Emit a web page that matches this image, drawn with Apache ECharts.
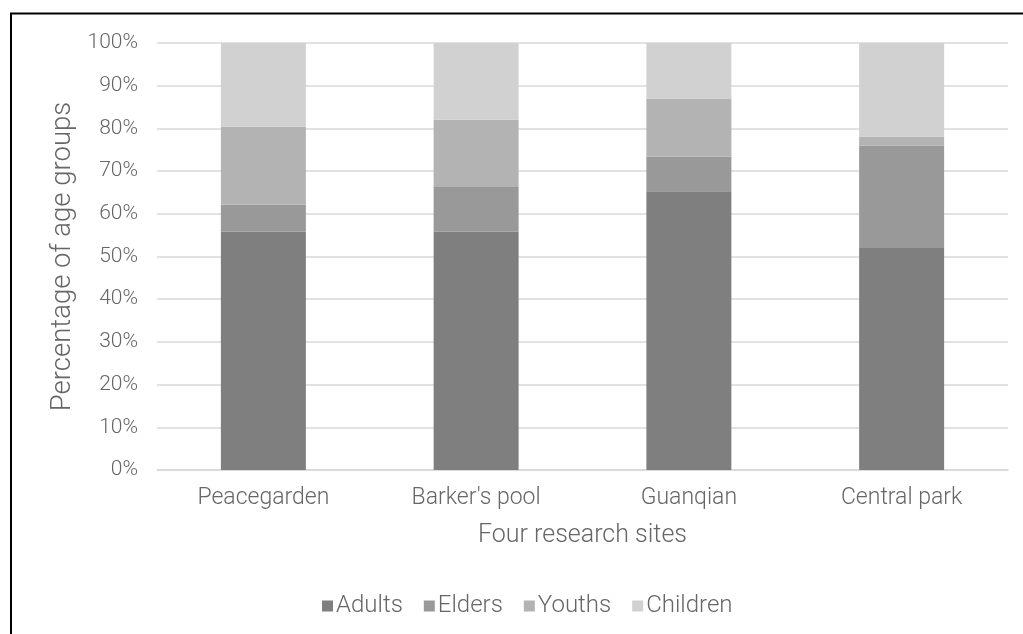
<!DOCTYPE html>
<html>
<head>
<meta charset="utf-8">
<script src="https://cdn.jsdelivr.net/npm/echarts@6/dist/echarts.min.js"></script>
<style>
  html, body { margin: 0; padding: 0; background: #fff; }
  #chart { width: 1023px; height: 634px; }
</style>
</head>
<body>
<div id="chart"></div>
<script>
// research sites on the x axis
const sites = ['Peacegarden', "Barker's pool", 'Guanqian', 'Central park'];

// share of each age group per site (%)
const adults = [55.8, 55.8, 65.3, 52.0];
const elders = [6.3, 10.5, 8.1, 24.0];
const youths = [18.3, 15.7, 13.6, 2.1];
const children = [19.6, 18.0, 13.0, 21.9];

const groupNames = ['Adults', 'Elders', 'Youths', 'Children'];
const groupColors = ['#7f7f7f', '#999999', '#b3b3b3', '#d1d1d1'];

const fontFamily = 'Roboto';
const textColor = '#666666';

const chart = echarts.init(document.getElementById('chart'));

const series = [adults, elders, youths, children].map((values, i) => ({
  name: groupNames[i],
  type: 'bar',
  stack: 'total',
  barWidth: 85,
  data: values,
  itemStyle: { color: groupColors[i] },
}));

const option = {
  animation: false,
  backgroundColor: '#ffffff',
  textStyle: { fontFamily: fontFamily, fontWeight: 300 },
  grid: {
    left: 157,
    right: 15,
    top: 43,
    bottom: 164,
  },
  xAxis: {
    type: 'category',
    data: sites,
    name: 'Four research sites',
    nameLocation: 'middle',
    nameGap: 53,
    nameTextStyle: { color: textColor, fontSize: 25, fontFamily: fontFamily, fontWeight: 300 },
    axisLine: { show: true, lineStyle: { color: '#d9d9d9', width: 1.5 } },
    axisTick: { show: false },
    axisLabel: { color: textColor, fontSize: 23, margin: 17, fontFamily: fontFamily, fontWeight: 300 },
  },
  yAxis: {
    type: 'value',
    min: 0,
    max: 100,
    interval: 10,
    name: 'Percentage of age groups',
    nameLocation: 'middle',
    nameGap: 80,
    nameTextStyle: { color: textColor, fontSize: 27.5, fontFamily: fontFamily, fontWeight: 300 },
    axisLine: { show: false },
    axisTick: { show: false },
    axisLabel: {
      color: textColor,
      fontSize: 21,
      margin: 19,
      fontFamily: fontFamily,
      fontWeight: 300,
      formatter: '{value}%',
    },
    splitLine: { lineStyle: { color: '#d9d9d9', width: 1.5 } },
  },
  legend: {
    data: groupNames,
    left: 322,
    top: 594,
    padding: 0,
    icon: 'rect',
    itemWidth: 11,
    itemHeight: 11,
    itemGap: 21,
    textStyle: { color: textColor, fontSize: 24, padding: [0, 0, 0, -2], fontFamily: fontFamily, fontWeight: 300 },
  },
  // outer chart frame (only top and left edges fall inside the picture)
  graphic: [
    {
      type: 'rect',
      silent: true,
      shape: { x: 11, y: 13.5, width: 1200, height: 1000 },
      style: { fill: 'none', stroke: '#000000', lineWidth: 2 },
    },
  ],
  series: series,
};

chart.setOption(option);
</script>
</body>
</html>
